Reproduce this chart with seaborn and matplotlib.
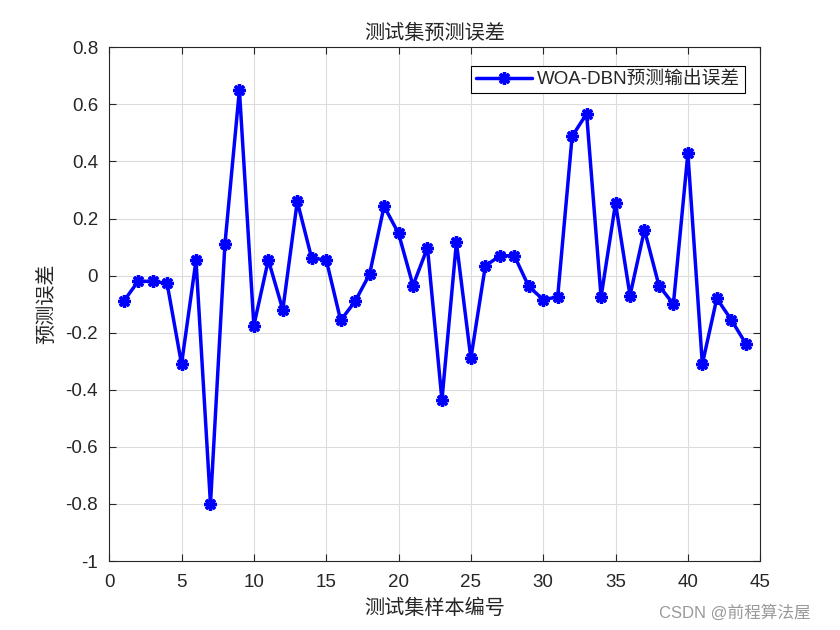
import matplotlib
matplotlib.use("Agg")
import matplotlib.pyplot as plt
import seaborn as sns
import numpy as np
import pandas as pd

sample_idx = list(range(1, 45))
errors = [-0.09, -0.02, -0.02, -0.027, -0.31, 0.053, -0.80, 0.11, 0.65, -0.175,
          0.055, -0.12, 0.26, 0.06, 0.056, -0.157, -0.09, 0.005, 0.243, 0.148,
          -0.035, 0.098, -0.436, 0.116, -0.29, 0.034, 0.069, 0.07, -0.038, -0.084,
          -0.075, 0.488, 0.567, -0.075, 0.253, -0.07, 0.16, -0.035, -0.10, 0.428,
          -0.31, -0.08, -0.155, -0.238]
series_label = "WOA-DBN预测输出误差"
title = "测试集预测误差"
xlabel = "测试集样本编号"
ylabel = "预测误差"
xticks = [0, 5, 10, 15, 20, 25, 30, 35, 40, 45]
yticks = [-1, -0.8, -0.6, -0.4, -0.2, 0, 0.2, 0.4, 0.6, 0.8]
ytick_labels = ["-1", "-0.8", "-0.6", "-0.4", "-0.2", "0", "0.2", "0.4", "0.6", "0.8"]

sns.set_style("white")
plt.rcParams['font.family'] = ['Liberation Sans', 'Noto Sans CJK SC', 'DejaVu Sans']
cjk = ['Noto Sans CJK SC', 'DejaVu Sans']

df = pd.DataFrame({"x": sample_idx, "y": errors})

fig = plt.figure(figsize=(8.4, 6.3), dpi=100)
ax = fig.add_axes([0.13, 0.1095, 0.775, 0.8155])

sns.lineplot(data=df, x="x", y="y", ax=ax, color=(0, 0, 1), linewidth=2.5,
             marker=(8, 2, 0), markersize=9, markeredgewidth=2.4,
             markeredgecolor=(0, 0, 1), label=series_label)

ax.set_xlim(0, 45)
ax.set_ylim(-1, 0.8)
ax.set_xticks(xticks)
ax.set_xticklabels([str(t) for t in xticks])
ax.set_yticks(yticks)
ax.set_yticklabels(ytick_labels)
ax.tick_params(axis='both', which='both', direction='in', length=5, width=0.8,
               labelsize=13.5, colors='#262626', top=True, right=True,
               bottom=True, left=True)
ax.tick_params(axis='x', pad=9)
ax.tick_params(axis='y', pad=8)
for lbl in ax.get_xticklabels() + ax.get_yticklabels():
    lbl.set_color('#262626')
ax.grid(True, color='#dcdcdc', linewidth=0.8)
for s in ax.spines.values():
    s.set_color('#262626')
    s.set_linewidth(0.8)

ax.set_title(title, fontsize=14.5, family=cjk, color='#262626', pad=6)
ax.set_xlabel(xlabel, fontsize=14.5, family=cjk, color='#262626', labelpad=5)
ax.set_ylabel(ylabel, fontsize=14.5, family=cjk, color='#262626', labelpad=6)

leg = ax.legend(loc='upper right', bbox_to_anchor=(0.977, 0.963), borderaxespad=0,
                frameon=True, fancybox=False, edgecolor='black', framealpha=1,
                prop={'family': ['Liberation Sans', 'Noto Sans CJK SC'], 'size': 13.5},
                handlelength=3.0, borderpad=0.25, handletextpad=0.3)
leg.get_frame().set_linewidth(0.8)

fig.text(0.965, 0.028, "CSDN @前程算法屋", ha='right', va='center',
         fontsize=12, color='#9a9a9a', family=['Liberation Sans', 'Noto Sans CJK SC'])

fig.savefig("out.png", dpi=100, facecolor='white')
